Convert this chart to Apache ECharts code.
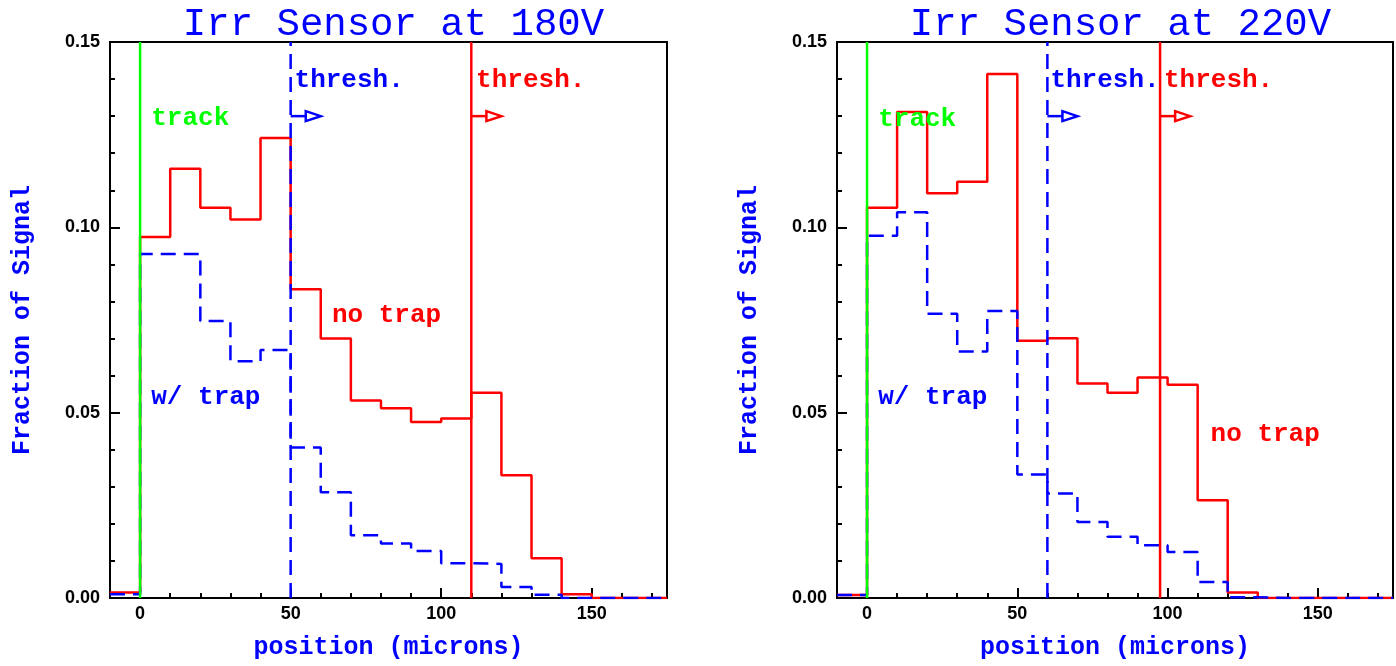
<!DOCTYPE html>
<html>
<head>
<meta charset="utf-8">
<script src="https://cdn.jsdelivr.net/npm/echarts@6/dist/echarts.min.js"></script>
<style>
  html, body { margin: 0; padding: 0; background: #fff; }
  #chart { width: 1396px; height: 666px; }
</style>
</head>
<body>
<div id="chart"></div>
<script>
// Signal fraction per 10-micron position bin (bin left edges), two bias voltages.
const binStart = [-10, 0, 10, 20, 30, 40, 50, 60, 70, 80, 90, 100, 110, 120, 130, 140, 150, 160, 170];
const X_MIN = -10, X_MAX = 175;

const noTrap180 = [0.0015, 0.0974, 0.1158, 0.1053, 0.1021, 0.1241, 0.0833, 0.0700, 0.0533, 0.0512,
                   0.0475, 0.0484, 0.0554, 0.0331, 0.0107, 0.0010, 0, 0, 0];
const wTrap180  = [0.0010, 0.0928, 0.0928, 0.0747, 0.0639, 0.0669, 0.0406, 0.0285, 0.0169, 0.0147,
                   0.0127, 0.0094, 0.0092, 0.0030, 0.0009, 0, 0, 0, 0];

const noTrap220 = [0.0008, 0.1053, 0.1311, 0.1092, 0.1123, 0.1414, 0.0694, 0.0701, 0.0579, 0.0554,
                   0.0595, 0.0575, 0.0264, 0.0015, 0, 0, 0, 0, 0];
const wTrap220  = [0.0008, 0.0977, 0.1041, 0.0767, 0.0665, 0.0774, 0.0333, 0.0282, 0.0205, 0.0165,
                   0.0142, 0.0124, 0.0043, 0.0002, 0, 0, 0, 0, 0];

const titles = ['Irr Sensor at 180V', 'Irr Sensor at 220V'];
const yTickLabels = ['0.00', '0.05', '0.10', '0.15'];
const xTickLabels = [0, 50, 100, 150];

// track position and threshold positions (microns) for each panel
const trackPos = [0, 0];
const threshTrap = [50, 60];      // w/ trap threshold
const threshNoTrap = [110, 97.5]; // no trap threshold
const arrowY = 0.130;
const arrowLen = 10;

// text annotations: [x, y, text, colour key]
const notes180 = [
  [3.7, 0.1295, 'track', 'green'],
  [3.7, 0.0542, 'w/ trap', 'blue'],
  [63.7, 0.0761, 'no trap', 'red'],
  [51.3, 0.1395, 'thresh.', 'blue'],
  [111.6, 0.1395, 'thresh.', 'red']
];
const notes220 = [
  [3.7, 0.1292, 'track', 'green'],
  [3.7, 0.0542, 'w/ trap', 'blue'],
  [114.3, 0.0440, 'no trap', 'red'],
  [61.0, 0.1395, 'thresh.', 'blue'],
  [98.8, 0.1395, 'thresh.', 'red']
];

const COL = { red: '#ff0000', blue: '#0000ff', green: '#00ff00' };
const MONO = '"Liberation Mono", "DejaVu Sans Mono", monospace';
const NOTE_FONT = 'bold 26px ' + MONO;

function stepData(values) {
  const pts = binStart.map((x, i) => [x, values[i]]);
  pts.push([X_MAX, values[values.length - 1]]);
  return pts;
}

const grids = [
  { left: 110, top: 42, width: 557, height: 556 },
  { left: 837, top: 42, width: 557, height: 556 }
];

const option = {
  animation: false,
  backgroundColor: '#ffffff',
  title: titles.map((t, i) => ({
    text: t,
    left: grids[i].left + grids[i].width / 2,
    top: 0,
    textAlign: 'center',
    textStyle: { fontFamily: MONO, fontWeight: 'normal', fontSize: 39, color: COL.blue }
  })),
  grid: grids.map(g => Object.assign({ show: true, borderColor: '#000', borderWidth: 2, backgroundColor: 'transparent' }, g)),
  xAxis: [],
  yAxis: [],
  series: []
};

[0, 1].forEach(p => {
  // minor x ticks every 10 microns + labels
  option.xAxis.push({
    type: 'value', gridIndex: p, position: 'bottom', min: X_MIN, max: X_MAX, interval: 10,
    name: 'position (microns)', nameLocation: 'middle', nameGap: 37,
    nameTextStyle: { fontFamily: MONO, fontWeight: 'bold', fontSize: 25, color: COL.blue },
    axisLine: { show: true, onZero: false, lineStyle: { color: '#000', width: 2 } },
    axisTick: { show: true, inside: true, length: 5, lineStyle: { color: '#000', width: 2 } },
    axisLabel: {
      show: true, margin: 7, color: '#000',
      fontFamily: '"Liberation Sans", Arial, sans-serif', fontWeight: 'bold', fontSize: 18,
      formatter: v => (xTickLabels.indexOf(v) >= 0 ? String(v) : ''),
      showMinLabel: true, showMaxLabel: true
    },
    splitLine: { show: false }
  });
  // major x ticks
  option.xAxis.push({
    type: 'value', gridIndex: p, position: 'bottom', min: X_MIN, max: X_MAX,
    axisLine: { show: false },
    axisTick: { show: true, inside: true, length: 10, customValues: xTickLabels, lineStyle: { color: '#000', width: 2 } },
    axisLabel: { show: false },
    splitLine: { show: false }
  });
  option.yAxis.push({
    type: 'value', gridIndex: p, min: 0, max: 0.15, interval: 0.05,
    name: 'Fraction of Signal', nameLocation: 'middle', nameGap: 75, nameRotate: 90,
    nameTextStyle: { fontFamily: MONO, fontWeight: 'bold', fontSize: 25, color: COL.blue },
    axisLine: { show: true, onZero: false, lineStyle: { color: '#000', width: 2 } },
    axisTick: { show: true, inside: true, length: 10, lineStyle: { color: '#000', width: 2 } },
    minorTick: { show: true, splitNumber: 5, length: 5, lineStyle: { color: '#000', width: 2 } },
    axisLabel: {
      margin: 10, color: '#000',
      fontFamily: '"Liberation Sans", Arial, sans-serif', fontWeight: 'bold', fontSize: 18,
      formatter: v => yTickLabels[Math.round(v / 0.05)]
    },
    splitLine: { show: false }
  });

  const xi = p * 2, yi = p;
  const noTrap = p === 0 ? noTrap180 : noTrap220;
  const wTrap = p === 0 ? wTrap180 : wTrap220;
  const notes = p === 0 ? notes180 : notes220;

  option.series.push({
    type: 'line', xAxisIndex: xi, yAxisIndex: yi, step: 'end', z: 2,
    data: stepData(noTrap), showSymbol: false, silent: true,
    lineStyle: { color: COL.red, width: 2.5 }
  });
  option.series.push({
    type: 'line', xAxisIndex: xi, yAxisIndex: yi, step: 'end', z: 3,
    data: stepData(wTrap), showSymbol: false, silent: true,
    lineStyle: { color: COL.blue, width: 2.5, type: [15, 8] }
  });
  // threshold markers
  option.series.push({
    type: 'line', xAxisIndex: xi, yAxisIndex: yi, z: 4,
    data: [[threshNoTrap[p], 0], [threshNoTrap[p], 0.15]], showSymbol: false, silent: true,
    lineStyle: { color: COL.red, width: 2.5 }
  });
  option.series.push({
    type: 'line', xAxisIndex: xi, yAxisIndex: yi, z: 5,
    data: [[threshTrap[p], 0], [threshTrap[p], 0.15]], showSymbol: false, silent: true,
    lineStyle: { color: COL.blue, width: 2.5, type: [15, 8] }
  });
  // track position
  option.series.push({
    type: 'line', xAxisIndex: xi, yAxisIndex: yi, z: 6,
    data: [[trackPos[p], 0], [trackPos[p], 0.15]], showSymbol: false, silent: true,
    lineStyle: { color: COL.green, width: 2.5 }
  });
  // threshold arrows (open head)
  option.series.push({
    type: 'custom', xAxisIndex: xi, yAxisIndex: yi, z: 7, silent: true,
    data: [[threshTrap[p], arrowY], [threshNoTrap[p], arrowY]],
    renderItem: (params, api) => {
      const x0 = api.value(0), y0 = api.value(1);
      const c = params.dataIndex === 0 ? COL.blue : COL.red;
      const a = api.coord([x0, y0]);
      const b = api.coord([x0 + arrowLen, y0]);
      const headLen = 15, half = 5;
      return {
        type: 'group',
        children: [
          { type: 'line', shape: { x1: a[0], y1: a[1], x2: b[0] - headLen, y2: b[1] },
            style: { stroke: c, lineWidth: 2.5 } },
          { type: 'polygon', shape: { points: [[b[0] - headLen, b[1] - half], [b[0], b[1]], [b[0] - headLen, b[1] + half]] },
            style: { fill: '#fff', stroke: c, lineWidth: 2.5, lineJoin: 'miter' } }
        ]
      };
    }
  });
  // text annotations
  option.series.push({
    type: 'custom', xAxisIndex: xi, yAxisIndex: yi, z: 8, silent: true,
    data: notes.map(n => [n[0], n[1]]),
    renderItem: (params, api) => {
      const n = notes[params.dataIndex];
      const pt = api.coord([api.value(0), api.value(1)]);
      return {
        type: 'text', x: pt[0], y: pt[1],
        style: {
          text: n[2], fill: COL[n[3]], font: NOTE_FONT,
          align: 'left', verticalAlign: 'middle',
          textAlign: 'left', textVerticalAlign: 'middle'
        }
      };
    }
  });
});

const chart = echarts.init(document.getElementById('chart'), null, { renderer: 'canvas' });
chart.setOption(option);
</script>
</body>
</html>
